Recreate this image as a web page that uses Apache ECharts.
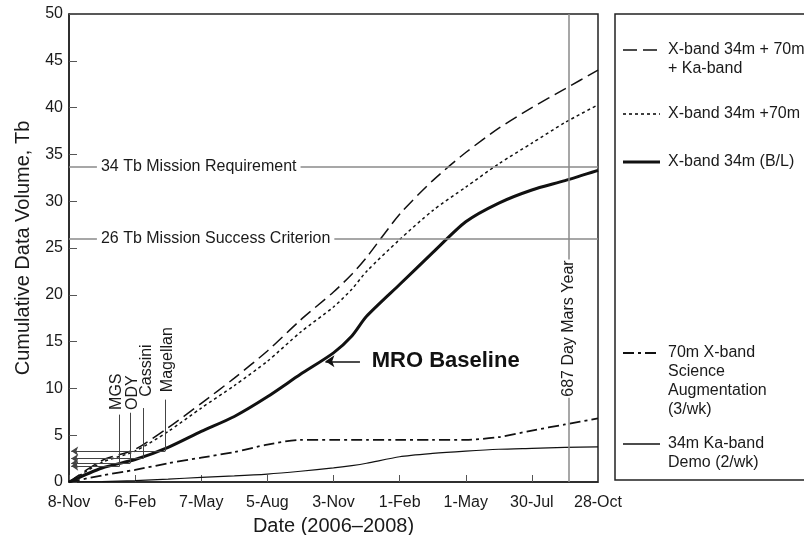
<!DOCTYPE html>
<html>
<head>
<meta charset="utf-8">
<script src="https://cdn.jsdelivr.net/npm/echarts@6/dist/echarts.min.js"></script>
<style>
html, body { margin: 0; padding: 0; background: #fff; }
#chart { width: 804px; height: 535px; }
</style>
</head>
<body>
<div id="chart"></div>
<script>
const FONT = '"Liberation Sans", Arial, Helvetica, sans-serif'
const INK = '#1a1a1a'

// days since 8-Nov-2006
const days = [0, 45, 90, 135, 180, 225, 270, 315, 360, 385, 405, 450, 495, 540, 585, 630, 675, 720]
const dateLabels = ['8-Nov', '6-Feb', '7-May', '5-Aug', '3-Nov', '1-Feb', '1-May', '30-Jul', '28-Oct']
const yTicks = [0, 5, 10, 15, 20, 25, 30, 35, 40, 45, 50]

const xband70Ka = [0, 2.3, 3.5, 5.8, 8.4, 11.1, 14.0, 17.3, 20.3, 22.2, 24.0, 28.6, 32.2, 35.2, 37.8, 40.0, 42.0, 44.0]
const xband70 = [0, 2.1, 3.3, 5.4, 7.9, 10.3, 12.9, 16.0, 18.7, 20.6, 22.5, 25.9, 29.0, 31.5, 34.0, 36.2, 38.4, 40.3]
const xbandBL = [0, 1.5, 2.4, 3.7, 5.4, 7.0, 9.1, 11.5, 13.8, 15.6, 17.7, 21.1, 24.5, 27.8, 29.8, 31.2, 32.2, 33.3]
const scienceAug = [0, 0.7, 1.3, 2.0, 2.6, 3.2, 4.0, 4.5, 4.5, 4.5, 4.5, 4.5, 4.5, 4.5, 4.8, 5.5, 6.15, 6.8]
const kaDemo = [0, 0.05, 0.15, 0.3, 0.5, 0.65, 0.85, 1.15, 1.5, 1.75, 2.0, 2.7, 3.05, 3.3, 3.5, 3.6, 3.7, 3.75]

const requirementValues = [33.7, 26]
const requirementNames = ['34 Tb Mission Requirement', '26 Tb Mission Success Criterion']
const marsYearDay = 680

const missions = ['MGS', 'ODY', 'Cassini', 'Magellan']
const missionDay = [69, 83, 101, 131]
const missionVolume = [1.7, 2.0, 2.5, 3.3]
const missionLineTop = [7.2, 7.4, 7.9, 8.8]
const missionLabelDay = [65, 86, 106, 134]
const missionLabelBase = [7.7, 7.7, 9.1, 9.6]

const baselineVolume = 12.9

function pairs (vals) {
  return days.map((d, i) => [d, vals[i]])
}

const chart = echarts.init(document.getElementById('chart'), null, { renderer: 'canvas' })

// mission annotation lines: horizontal arrow to the y axis + vertical stem
const missionLines = []
missions.forEach((m, i) => {
  missionLines.push([
    { coord: [missionDay[i], missionVolume[i]], symbol: 'none' },
    { coord: [3, missionVolume[i]], symbol: 'arrow', symbolSize: 7 }
  ])
  missionLines.push([
    { coord: [missionDay[i], missionVolume[i]], symbol: 'none' },
    { coord: [missionDay[i], missionLineTop[i]], symbol: 'none' }
  ])
})
missionLines.push([
  { coord: [396, baselineVolume], symbol: 'none' },
  { coord: [349, baselineVolume], symbol: 'arrow', symbolSize: 9, lineStyle: { color: '#111', width: 1.5 } }
])

const labelItems = []
requirementNames.forEach((n, i) => {
  labelItems.push({
    value: [38, requirementValues[i]],
    label: { formatter: n, position: 'right', distance: 0, backgroundColor: '#fff', padding: [2, 4] }
  })
})
labelItems.push({
  value: [marsYearDay, 9.0],
  label: { formatter: '687 Day Mars Year', position: 'inside', rotate: 90, align: 'left', verticalAlign: 'middle', backgroundColor: '#fff', padding: [5, 1, 5, 1] }
})
missions.forEach((m, i) => {
  labelItems.push({
    value: [missionLabelDay[i], missionLabelBase[i]],
    label: { formatter: m, position: 'inside', rotate: 90, align: 'left', verticalAlign: 'middle' }
  })
})
labelItems.push({
  value: [412, baselineVolume],
  label: { formatter: 'MRO Baseline', position: 'right', distance: 0, fontWeight: 'bold', fontSize: 22, color: '#111' }
})

function curve (name, vals, style) {
  return {
    name,
    type: 'line',
    data: pairs(vals),
    smooth: 0.25,
    symbol: 'none',
    z: 3,
    lineStyle: Object.assign({ color: '#111', width: 1.5 }, style)
  }
}

const legendRows = [
  { y: 50, dash: [14, 6], width: 1.6, text: 'X-band 34m + 70m\n+ Ka-band' },
  { y: 114, dash: [3, 3], width: 1.6, text: 'X-band 34m +70m' },
  { y: 162, dash: null, width: 3, text: 'X-band 34m (B/L)' },
  { y: 353, dash: [11, 4, 3, 4], width: 1.8, text: '70m X-band\nScience\nAugmentation\n(3/wk)' },
  { y: 444, dash: null, width: 1.4, text: '34m Ka-band\nDemo (2/wk)' }
]

const graphic = [{
  type: 'rect',
  shape: { x: 615, y: 14, width: 240, height: 466 },
  style: { fill: '#fff', stroke: '#222', lineWidth: 1.5 }
}]
legendRows.forEach(r => {
  graphic.push({
    type: 'line',
    shape: { x1: 623, y1: r.y, x2: 660, y2: r.y },
    style: { stroke: '#111', lineWidth: r.width, lineDash: r.dash }
  })
  graphic.push({
    type: 'text',
    x: 668,
    y: r.y - 9.5,
    style: { text: r.text, font: '16px ' + FONT, fill: INK, lineHeight: 19, verticalAlign: 'top' }
  })
})

chart.setOption({
  animation: false,
  backgroundColor: '#fff',
  textStyle: { fontFamily: FONT },
  grid: {
    left: 69, top: 14, right: 206, bottom: 53,
    outerBoundsMode: 'none',
    containLabel: false,
    show: true, borderColor: '#222', borderWidth: 1.5, backgroundColor: 'transparent'
  },
  xAxis: {
    type: 'value',
    min: 0,
    max: 720,
    interval: 90,
    name: 'Date (2006\u20132008)',
    nameLocation: 'middle',
    nameGap: 34,
    nameTextStyle: { fontSize: 20, color: INK, fontFamily: FONT },
    axisLine: { lineStyle: { color: '#222', width: 1.5 } },
    axisTick: { inside: true, length: 7, lineStyle: { color: '#555' } },
    axisLabel: { formatter: v => dateLabels[Math.round(v / 90)], color: INK, fontSize: 16, margin: 13, fontFamily: FONT },
    splitLine: { show: false }
  },
  yAxis: {
    type: 'value',
    min: yTicks[0],
    max: yTicks[yTicks.length - 1],
    interval: 5,
    name: 'Cumulative Data Volume, Tb',
    nameLocation: 'middle',
    nameGap: 36,
    nameTextStyle: { fontSize: 20, color: INK, fontFamily: FONT },
    axisLine: { show: true, lineStyle: { color: '#222', width: 1.5 } },
    axisTick: { show: true, inside: true, length: 8, lineStyle: { color: '#555' } },
    axisLabel: { color: INK, fontSize: 16, margin: 6, fontFamily: FONT },
    splitLine: { show: false }
  },
  series: [
    {
      name: 'refs',
      type: 'line',
      data: [],
      z: 1,
      markLine: {
        silent: true,
        symbol: 'none',
        animation: false,
        label: { show: false },
        lineStyle: { color: '#8a8a8a', width: 1.5, type: 'solid' },
        data: requirementValues.map(v => ({ yAxis: v })).concat([{ xAxis: marsYearDay }])
      }
    },
    {
      name: 'missions',
      type: 'line',
      data: [],
      z: 2,
      markLine: {
        silent: true,
        animation: false,
        label: { show: false },
        lineStyle: { color: '#444', width: 1, type: 'solid' },
        data: missionLines
      }
    },
    curve('X-band 34m + 70m + Ka-band', xband70Ka, { type: [13, 6] }),
    curve('X-band 34m +70m', xband70, { type: [3, 3] }),
    curve('X-band 34m (B/L)', xbandBL, { width: 3 }),
    curve('70m X-band Science Augmentation (3/wk)', scienceAug, { type: [11, 4, 3, 4], width: 1.8 }),
    curve('34m Ka-band Demo (2/wk)', kaDemo, { width: 1.2 }),
    {
      name: 'labels',
      type: 'scatter',
      symbolSize: 0,
      silent: true,
      z: 5,
      itemStyle: { opacity: 1 },
      label: { show: true, color: INK, fontSize: 16, fontFamily: FONT, opacity: 1 },
      data: labelItems
    }
  ],
  graphic
})
</script>
</body>
</html>
